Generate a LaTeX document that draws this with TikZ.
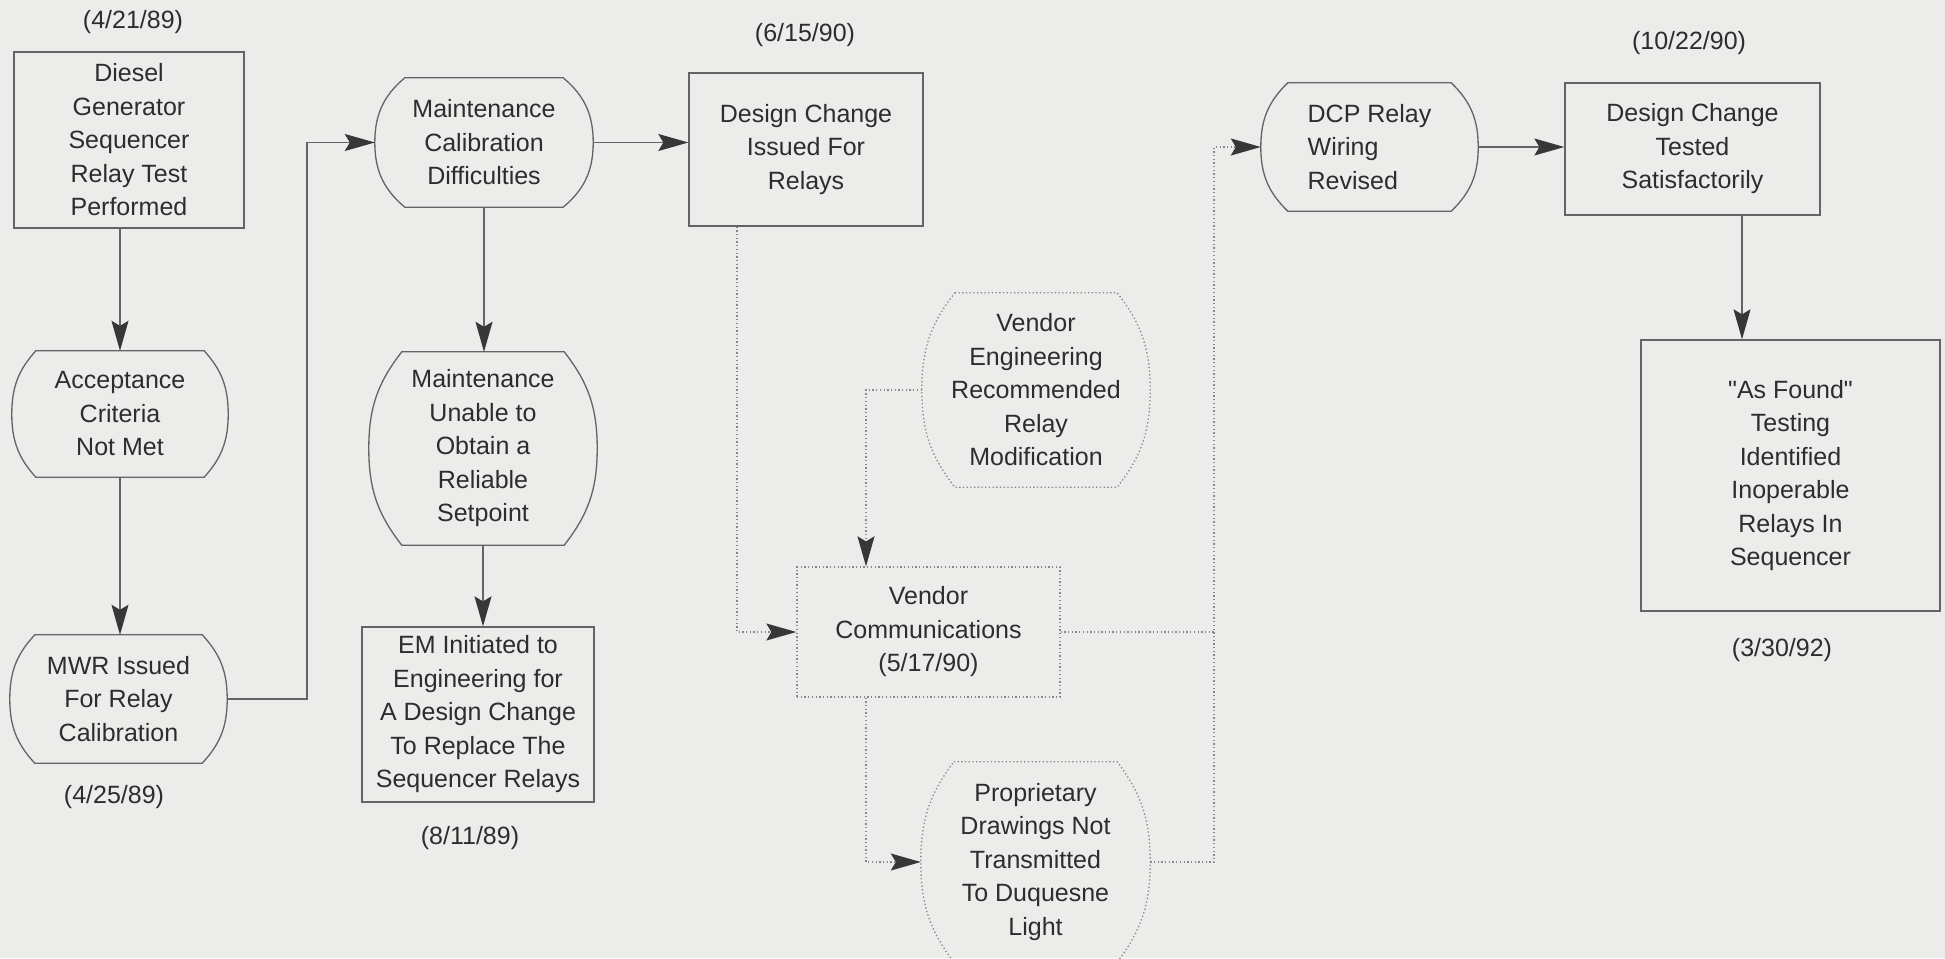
\documentclass[tikz,border=0pt]{standalone}
\usepackage{fontspec}
\setmainfont{Liberation Sans}
\newfontfamily\plainq{Liberation Sans}
\usetikzlibrary{arrows.meta,calc}
\definecolor{bg}{RGB}{236,236,234}
\definecolor{ln}{RGB}{100,100,100}
\definecolor{tx}{RGB}{45,45,45}
\definecolor{dl}{RGB}{135,135,135}
\definecolor{ah}{RGB}{55,55,55}
\newcommand{\barrel}[4]{%
  \pgfmathsetmacro{\brlA}{#3}%
  \pgfmathsetmacro{\brlB}{180-#3}%
  \pgfmathsetmacro{\brlC}{180+#3}%
  \draw[#4] ([xshift=#2]#1.north west) -- ([xshift=-#2]#1.north east)
    to[out=-\brlA,in=90] (#1.east)
    to[out=-90,in=\brlA] ([xshift=-#2]#1.south east)
    -- ([xshift=#2]#1.south west)
    to[out=\brlB,in=-90] (#1.west)
    to[out=90,in=\brlC] ([xshift=#2]#1.north west) -- cycle;}
\begin{document}
\begin{tikzpicture}[x=1pt,y=1pt,
  every node/.style={font=\fontsize{25}{33.5}\selectfont, text=tx, align=center, inner sep=0pt},
  box/.style={draw=ln, line width=1.3pt},
  dbox/.style={draw=dl, line width=1.3pt, dash pattern=on 1.3pt off 2.4pt},
  sline/.style={draw=ln, line width=1.3pt},
  dline/.style={draw=dl, line width=1.3pt, dash pattern=on 1.3pt off 2.4pt},
  arr/.style={sline, -{Stealth[length=30pt,width=17pt,inset=5pt,color=ah]}},
  darr/.style={dline, -{Stealth[length=30pt,width=17pt,inset=5pt,color=ah]}}]
\fill[bg] (0,0) rectangle (1945,-958);
\useasboundingbox (0,0) rectangle (1945,-958);

% nodes
\node (d1) at (133,-22) {(4/21/89)};
\node[box, minimum width=230pt, minimum height=176pt] (diesel) at (129,-140) {Diesel\\Generator\\Sequencer\\Relay Test\\Performed};
\node[minimum width=216pt, minimum height=126pt] (acc) at (120,-414) {Acceptance\\Criteria\\Not Met};
\node[minimum width=217pt, minimum height=128pt] (mwr) at (118.5,-699) {MWR Issued\\For Relay\\Calibration};
\node (d2) at (114,-797) {(4/25/89)};
\node[minimum width=218pt, minimum height=129pt] (mcal) at (484,-142.5) {Maintenance\\Calibration\\Difficulties};
\node[minimum width=228pt, minimum height=193pt] (mun) at (483,-448.5) {Maintenance\\Unable to\\Obtain a\\Reliable\\Setpoint};
\node[box, minimum width=232pt, minimum height=175pt] (em) at (478,-714.5) {EM Initiated to\\Engineering for\\A Design Change\\To Replace The\\Sequencer Relays};
\node (d3) at (470,-838) {(8/11/89)};
\node[box, minimum width=234pt, minimum height=153pt] (dc1) at (806,-149.5) {Design Change\\Issued For\\Relays};
\node (d4) at (805,-35) {(6/15/90)};
\node[minimum width=228pt, minimum height=194pt] (veng) at (1036,-390) {Vendor\\Engineering\\Recommended\\Relay\\Modification};
\node[dbox, minimum width=263pt, minimum height=130pt] (vcom) at (928.5,-632) {Vendor\\Communications\\(5/17/90)};
\node[minimum width=229pt, minimum height=200pt] (prop) at (1035.5,-862) {Proprietary\\Drawings Not\\Transmitted\\To Duquesne\\Light};
\node[minimum width=217pt, minimum height=128pt, align=left] (dcp) at (1369.5,-147) {DCP Relay\\Wiring\\Revised};
\node[box, minimum width=255pt, minimum height=132pt] (dc2) at (1692.5,-149) {Design Change\\Tested\\Satisfactorily};
\node (d5) at (1689,-43) {(10/22/90)};
\node[box, minimum width=299pt, minimum height=271pt] (asf) at (1790.5,-475.5) {{\plainq "}As Found{\plainq "}\\Testing\\Identified\\Inoperable\\Relays In\\Sequencer};
\node (d6) at (1782,-650) {(3/30/92)};

% barrel outlines
\barrel{acc}{24pt}{48}{sline}
\barrel{mwr}{25pt}{47}{sline}
\barrel{mcal}{30pt}{40}{sline}
\barrel{mun}{33pt}{52}{sline}
\barrel{veng}{33pt}{52}{dline}
\barrel{prop}{33pt}{53}{dline}
\barrel{dcp}{27pt}{44}{sline}

% junctions
\coordinate (j1) at (307,-400);
\coordinate (j2) at (737,-400);
\coordinate (j3) at (866,-500);
\coordinate (j4) at (1214,-500);
\coordinate (j5) at (1742,-300);

% connectors
\draw[arr] (diesel.south -| acc.north) -- (acc.north);
\draw[arr] (acc.south) -- (acc.south |- mwr.north);
\draw[arr] (mwr.east) -- (mwr.east -| j1) -- (j1 |- mcal.west) -- (mcal.west);
\draw[arr] (mcal.south) -- (mcal.south |- mun.north);
\draw[arr] (mun.south) -- (mun.south |- em.north);
\draw[arr] (mcal.east) -- (mcal.east -| dc1.west);
\draw[darr] (j2 |- dc1.south) -- (j2 |- vcom.west) -- (vcom.west);
\draw[darr] (veng.west) -- (veng.west -| j3) -- (j3 |- vcom.north);
\draw[darr] (j3 |- vcom.south) -- (j3 |- prop.west) -- (prop.west);
\draw[dline] (vcom.east) -- (vcom.east -| j4);
\draw[darr] (prop.east) -- (prop.east -| j4) -- (j4 |- dcp.west) -- (dcp.west);
\draw[arr] (dcp.east) -- (dcp.east -| dc2.west);
\draw[arr] (j5 |- dc2.south) -- (j5 |- asf.north);
\end{tikzpicture}
\end{document}
